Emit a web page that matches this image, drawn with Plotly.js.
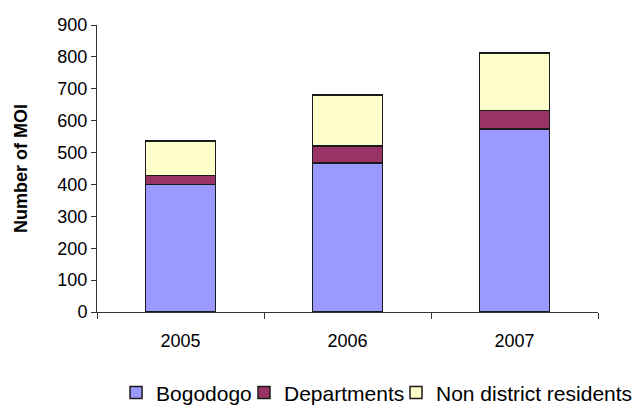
<!DOCTYPE html>
<html>
<head>
<meta charset="utf-8">
<script src="https://cdn.plot.ly/plotly-3.0.1.min.js"></script>
<style>
  html, body { margin: 0; padding: 0; background: #fff; }
  #chart { width: 641px; height: 407px; }
</style>
</head>
<body>
<div id="chart"></div>
<script>
// Years on the category axis
const years = ['2005', '2006', '2007'];

// Number of MOI per origin, stacked per year
const bogodogo = [400, 468, 574];
const departments = [28, 52, 58];
const nonDistrictResidents = [108, 160, 180];

// Y axis ticks
const yTickValues = [0, 100, 200, 300, 400, 500, 600, 700, 800, 900];

const seriesNames = ['Bogodogo', 'Departments', 'Non district residents'];
const seriesValues = [bogodogo, departments, nonDistrictResidents];
const seriesColors = ['#9999FF', '#993366', '#FFFFCC'];
// each series gets its own one-entry legend so the row under the chart stays tight
const legendIds = ['legend', 'legend2', 'legend3'];
const legendX = [0.038, 0.2934, 0.5968];

const traces = seriesValues.map((vals, i) => ({
  type: 'bar',
  name: seriesNames[i],
  x: years,
  y: vals,
  legend: legendIds[i],
  marker: { color: seriesColors[i], line: { color: '#1a1a1a', width: 1.5 } },
  hoverinfo: 'x+y+name'
}));

const font = { family: 'Liberation Sans, Arial, sans-serif', size: 18, color: '#000' };
const legendFont = { family: 'Liberation Sans, Arial, sans-serif', size: 21, color: '#000' };

const legendBox = x => ({
  orientation: 'h',
  xref: 'paper',
  yref: 'paper',
  x: x,
  xanchor: 'left',
  y: -0.282,
  yanchor: 'middle',
  font: legendFont,
  itemwidth: 30,
  bgcolor: 'rgba(0,0,0,0)'
});

const layout = {
  width: 641,
  height: 407,
  margin: { l: 97, r: 43, t: 25, b: 95, autoexpand: false },
  paper_bgcolor: '#fff',
  plot_bgcolor: '#fff',
  font: font,
  barmode: 'stack',
  bargap: 0.58,
  showlegend: true,
  xaxis: {
    type: 'category',
    showgrid: false,
    zeroline: false,
    showline: true,
    linecolor: '#333',
    linewidth: 1,
    ticks: 'outside',
    tickson: 'boundaries',
    ticklen: 6,
    tickcolor: '#333',
    ticklabelstandoff: 12,
    tickfont: font
  },
  yaxis: {
    range: [0, 900],
    tickvals: yTickValues,
    showgrid: false,
    zeroline: false,
    showline: true,
    linecolor: '#333',
    linewidth: 1,
    ticks: 'outside',
    ticklen: 5,
    tickcolor: '#333',
    tickfont: font,
    title: {
      text: '<b>Number of MOI</b>',
      font: font,
      standoff: 25
    }
  }
};
legendIds.forEach((id, i) => { layout[id] = legendBox(legendX[i]); });

Plotly.newPlot('chart', traces, layout, { displayModeBar: false, staticPlot: true });
</script>
</body>
</html>
